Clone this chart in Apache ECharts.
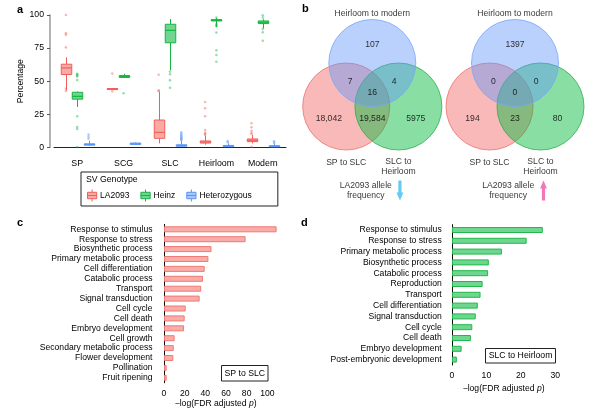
<!DOCTYPE html>
<html><head><meta charset="utf-8">
<script src="https://cdn.jsdelivr.net/npm/echarts@6/dist/echarts.min.js"></script>
<style>html,body{margin:0;padding:0;background:#fff}#c{width:600px;height:418px}</style>
</head><body><div id="c"></div>
<script>
// ---------- DATA ----------
const categoriesA = ['SP', 'SCG', 'SLC', 'Heirloom', 'Modern'];
const seriesNamesA = ['LA2093', 'Heinz', 'Heterozygous'];
// [lower whisker, Q1, median, Q3, upper whisker]
const la2093Box = [[43, 55, 60, 62.8, 68], [43.6, 43.8, 44.1, 44.4, 44.6], [3, 6.8, 11.3, 20.6, 42], [2, 3.2, 4, 4.8, 8.8], [3, 4.3, 5.3, 6.3, 9.3]];
const heinzBox = [[30.5, 36.4, 38.5, 41.6, 42.2], [52.5, 52.8, 53.5, 54.2, 55.6], [58.4, 79, 88.4, 93, 97], [91, 95.5, 96, 96.5, 97.8], [90, 93.5, 94.5, 95.5, 96.8]];
const hetBox = [[1, 1.6, 2.2, 2.6, 5], [2, 2.2, 2.6, 3.2, 3.6], [0.3, 0.8, 1.3, 1.9, 5], [0.1, 0.5, 1, 1.4, 3], [0.1, 0.4, 0.8, 1.2, 3]];
const la2093Out = [[100, 86.3, 85, 75.5, 44.5, 42.5], [55.8, 42.3], [54.8, 43, 42.5], [34.2, 29.5, 23.5, 13, 11, 10, 9.5], [18.2, 15.2, 12.5, 11, 10, 0.3]];
const heinzOut = [[55.5, 55, 54.2, 53.6, 50.8, 23.5, 15.3, 13.8, 0.2], [40.8], [57.2, 55.2, 50.6, 45], [98, 93.2, 92.3, 91.5, 86.7, 73.3, 69.8, 64.7], [99.8, 98, 89.5, 87, 80.5]];
const hetOut = [[9.6, 8, 6.5], [], [11.3, 10.2, 9.3, 8.4, 7.5, 6.8, 6, 5.5], [4.7, 3.8], [4.6, 3.5]];
const yTicksA = [0, 25, 50, 75, 100];

const vennSetNames = ['Heirloom to modern', 'SP to SLC', 'SLC to\nHeirloom'];
// order: onlyBlue, redBlue, blueGreen, all, onlyRed, redGreen, onlyGreen
const vennDown = [107, 7, 4, 16, 18042, 19584, 5975];
const vennUp = [1397, 0, 0, 0, 194, 23, 80];
const vennCaption = 'LA2093 allele\nfrequency';

const goC = ['Response to stimulus', 'Response to stress', 'Biosynthetic process', 'Primary metabolic process', 'Cell differentiation', 'Catabolic process', 'Transport', 'Signal transduction', 'Cell cycle', 'Cell death', 'Embryo development', 'Cell growth', 'Secondary metabolic process', 'Flower development', 'Pollination', 'Fruit ripening'];
const valC = [109, 79, 46, 43, 39.4, 37.7, 36, 34.5, 21, 20, 19.4, 10.3, 9.4, 9, 2.6, 2.6];
const goD = ['Response to stimulus', 'Response to stress', 'Primary metabolic process', 'Biosynthetic process', 'Catabolic process', 'Reproduction', 'Transport', 'Cell differentiation', 'Signal transduction', 'Cell cycle', 'Cell death', 'Embryo development', 'Post-embryonic development'];
const valD = [26.4, 21.7, 14.5, 10.7, 10.5, 8.9, 8.3, 7.5, 6.9, 5.9, 5.5, 2.8, 1.4];

// ---------- STYLE / LAYOUT ----------
const FONT = '"Liberation Sans", Arial, sans-serif';
const TXT = '#000';
const pal = {
  red: {fill: '#F9AAA5', stroke: '#EF5F58', pt: 'rgba(240,90,85,0.55)'},
  green: {fill: '#6FD590', stroke: '#14B441', pt: 'rgba(20,180,65,0.55)'},
  blue: {fill: '#A9C7FF', stroke: '#5A94F8', pt: 'rgba(80,140,245,0.55)'}
};
const boxOffsets = [-11.3, 0, 11.3];
const BOXW = 10.5;

function boxSeries(name, data, col, off) {
  return {
    type: 'custom', name: name, xAxisIndex: 0, yAxisIndex: 0, silent: true, z: 3,
    itemStyle: {color: col.fill, borderColor: col.stroke},
    data: data.map((b, i) => [i].concat(b)),
    encode: {x: 0, y: [1, 2, 3, 4, 5]},
    renderItem: function (params, api) {
      const c = api.value(0);
      const p = [1, 2, 3, 4, 5].map(k => api.coord([c, api.value(k)]));
      const x = Math.round(p[0][0] + off) + 0.5, hw = BOXW / 2;
      const st = {stroke: col.stroke, lineWidth: 1, fill: null};
      return {type: 'group', children: [
        {type: 'line', shape: {x1: x, y1: p[0][1], x2: x, y2: p[1][1]}, style: st},
        {type: 'line', shape: {x1: x, y1: p[3][1], x2: x, y2: p[4][1]}, style: st},
        {type: 'rect', shape: {x: x - hw, y: p[3][1], width: BOXW, height: Math.max(1, p[1][1] - p[3][1])}, style: {fill: col.fill, stroke: col.stroke, lineWidth: 1}},
        {type: 'line', shape: {x1: x - hw, y1: p[2][1], x2: x + hw, y2: p[2][1]}, style: {stroke: col.stroke, lineWidth: 1.2}}
      ]};
    }
  };
}
function outSeries(name, outs, col, off) {
  const d = [];
  outs.forEach((arr, i) => arr.forEach(v => d.push([categoriesA[i], v])));
  return {type: 'scatter', name: name, xAxisIndex: 0, yAxisIndex: 0, silent: true, z: 4,
    symbolSize: 2.6, symbolOffset: [off, 0], itemStyle: {color: col.pt}, data: d};
}

// venn layout (unit = circle radius)
const vennCenters = [[-0.6, 0], [0.6, 0], [0, 1]]; // red, green, blue (draw order)
const vennRegionPos = [[0, 1.43], [-0.51, 0.57], [0.5, 0.57], [0, 0.32], [-1.0, -0.28], [0, -0.28], [1.0, -0.28]];
const vennSetPos = [[0, 2.13], [-0.6, -1.29], [0.6, -1.38]];
const VX = [-2, 2], VY = [-2.4, 2.4], VW = 174, VH = 208.8;
const pxPerUnit = VW / (VX[1] - VX[0]);
const fmt = n => n >= 10000 ? n.toLocaleString('en-US') : String(n);
const arrowDown = 'path://M2.2,0 H5.8 V12 H8 L4,20 L0,12 H2.2 Z';
const arrowUp = 'path://M4,0 L8,8 H5.8 V20 H2.2 V8 H0 Z';

function vennSeries(idx, counts, arrowSym, arrowColor, capX, arrowX) {
  const circleFill = ['rgba(236,62,58,0.45)', 'rgba(0,186,56,0.58)', 'rgba(97,150,250,0.55)'];
  const circleStroke = ['#EE7370', '#2BB24C', '#79A6F6'];
  return [
    {type: 'scatter', xAxisIndex: idx, yAxisIndex: idx, silent: true, z: 2,
      symbolSize: 2 * pxPerUnit,
      data: vennCenters.map((c, i) => ({value: c, itemStyle: {color: circleFill[i], borderColor: circleStroke[i], borderWidth: 1}}))},
    {type: 'scatter', xAxisIndex: idx, yAxisIndex: idx, silent: true, z: 5, symbolSize: 0,
      data: counts.map((n, i) => ({value: vennRegionPos[i], name: fmt(n)})),
      label: {show: true, position: 'inside', formatter: '{b}', color: '#000', fontSize: 8.6, fontFamily: FONT}},
    {type: 'scatter', xAxisIndex: idx, yAxisIndex: idx, silent: true, z: 5, symbolSize: 0,
      data: vennSetNames.map((s, i) => ({value: vennSetPos[i], name: s})).concat([{value: [capX, -1.93], name: vennCaption}]),
      label: {show: true, position: 'inside', formatter: '{b}', color: '#000', fontSize: 8.6, lineHeight: 10, fontFamily: FONT}},
    {type: 'scatter', xAxisIndex: idx, yAxisIndex: idx, silent: true, z: 5,
      symbol: arrowSym, symbolSize: [7, 20], symbolKeepAspect: false,
      itemStyle: {color: arrowColor}, data: [[arrowX, -1.93]]}
  ];
}

const axisTxt = {color: TXT, fontSize: 8.6, fontFamily: FONT};
const blackLine = {lineStyle: {color: '#111', width: 1}};
const boxIcon = 'path://M5,0 V3 M0,3 H10 V10 H0 Z M0,6.5 H10 M5,10 V13';
const nameStyle = {color: TXT, fontSize: 8.6, fontFamily: FONT, rich: {i: {fontStyle: 'italic', fontSize: 8.6, fontFamily: FONT, color: TXT}}};

const option = {
  animation: false,
  backgroundColor: '#fff',
  textStyle: {fontFamily: FONT},
  grid: [
    {left: 54, top: 15, width: 232, height: 132.3},
    {left: 372.3 - VW / 2, top: 106.5 - VH / 2, width: VW, height: VH},
    {left: 517 - VW / 2, top: 106.5 - VH / 2, width: VW, height: VH},
    {left: 164, top: 224.35, width: 103.3, height: 158.4},
    {left: 452, top: 224.6, width: 103.2, height: 140.4}
  ],
  xAxis: [
    {gridIndex: 0, type: 'category', data: categoriesA, offset: 8,
      axisLine: {lineStyle: {color: '#222', width: 1}},
      axisTick: {inside: true, length: 5, lineStyle: {color: '#888'}},
      axisLabel: Object.assign({margin: 4}, axisTxt, {fontSize: 8.8})},
    {gridIndex: 1, type: 'value', min: VX[0], max: VX[1], show: false},
    {gridIndex: 2, type: 'value', min: VX[0], max: VX[1], show: false},
    {gridIndex: 3, type: 'value', min: 0, max: 100, interval: 20, offset: 1,
      axisLine: blackLine, axisTick: {length: 3, lineStyle: {color: '#111'}},
      splitLine: {show: false},
      axisLabel: Object.assign({margin: 5}, axisTxt),
      name: '\u2212log(FDR adjusted {i|p})', nameLocation: 'middle', nameGap: 15.5, nameTextStyle: nameStyle},
    {gridIndex: 4, type: 'value', min: 0, max: 30, interval: 10, offset: 2.5,
      axisLine: blackLine, axisTick: {length: 3, lineStyle: {color: '#111'}},
      splitLine: {show: false},
      axisLabel: Object.assign({margin: 3.5}, axisTxt),
      name: '\u2212log(FDR adjusted {i|p})', nameLocation: 'middle', nameGap: 16.5, nameTextStyle: nameStyle}
  ],
  yAxis: [
    {gridIndex: 0, type: 'value', min: yTicksA[0], max: yTicksA[yTicksA.length - 1], interval: yTicksA[1] - yTicksA[0], offset: 4,
      axisLine: {show: true, lineStyle: {color: '#9a9a9a', width: 1.5}},
      axisTick: {show: true, length: 3, lineStyle: {color: '#555'}},
      splitLine: {show: false},
      axisLabel: Object.assign({margin: 6}, axisTxt, {fontSize: 8.7}),
      name: 'Percentage', nameLocation: 'middle', nameGap: 22.5,
      nameTextStyle: {color: TXT, fontSize: 8.6, fontFamily: FONT}},
    {gridIndex: 1, type: 'value', min: VY[0], max: VY[1], show: false},
    {gridIndex: 2, type: 'value', min: VY[0], max: VY[1], show: false},
    {gridIndex: 3, type: 'category', data: goC, inverse: true, offset: 3.5,
      axisLine: blackLine, axisTick: {alignWithLabel: true, interval: 0, length: 3, lineStyle: {color: '#111'}},
      axisLabel: Object.assign({margin: 8, interval: 0}, axisTxt)},
    {gridIndex: 4, type: 'category', data: goD, inverse: true, offset: 4.3,
      axisLine: blackLine, axisTick: {alignWithLabel: true, interval: 0, length: 3, lineStyle: {color: '#111'}},
      axisLabel: Object.assign({margin: 6, interval: 0}, axisTxt)}
  ],
  legend: {
    left: 81, top: 172, orient: 'horizontal', selectedMode: false,
    padding: [17, 26, 4, 6], itemGap: 11, itemWidth: 10, itemHeight: 12,
    borderColor: '#222', borderWidth: 1,
    textStyle: {color: TXT, fontSize: 8.5, fontFamily: FONT, padding: [0, 0, 0, -2]},
    data: [
      {name: seriesNamesA[0], icon: boxIcon, itemStyle: {color: pal.red.fill, borderColor: pal.red.stroke, borderWidth: 1}},
      {name: seriesNamesA[1], icon: boxIcon, itemStyle: {color: pal.green.fill, borderColor: pal.green.stroke, borderWidth: 1}},
      {name: seriesNamesA[2], icon: boxIcon, itemStyle: {color: pal.blue.fill, borderColor: pal.blue.stroke, borderWidth: 1}}
    ]
  },
  graphic: [
    {type: 'text', left: 17, top: 4, style: {text: 'a', font: 'bold 11px ' + FONT, fill: '#000'}},
    {type: 'text', left: 302, top: 3, style: {text: 'b', font: 'bold 11px ' + FONT, fill: '#000'}},
    {type: 'text', left: 17, top: 217, style: {text: 'c', font: 'bold 11px ' + FONT, fill: '#000'}},
    {type: 'text', left: 301, top: 217, style: {text: 'd', font: 'bold 11px ' + FONT, fill: '#000'}},
    {type: 'text', left: 86, top: 175, style: {text: 'SV Genotype', font: '8.7px ' + FONT, fill: TXT}},
    {type: 'rect', shape: {x: 221.5, y: 365.5, width: 46.5, height: 15.5}, style: {fill: '#fff', stroke: '#222', lineWidth: 1}, z: 10},
    {type: 'text', x: 244.8, y: 373.3, style: {text: 'SP to SLC', font: '8.7px ' + FONT, fill: TXT, textAlign: 'center', textVerticalAlign: 'middle'}, z: 11},
    {type: 'rect', shape: {x: 485.5, y: 348.5, width: 70, height: 14.5}, style: {fill: '#fff', stroke: '#222', lineWidth: 1}, z: 10},
    {type: 'text', x: 520.5, y: 355.8, style: {text: 'SLC to Heirloom', font: '8.7px ' + FONT, fill: TXT, textAlign: 'center', textVerticalAlign: 'middle'}, z: 11}
  ],
  series: [
    boxSeries(seriesNamesA[0], la2093Box, pal.red, boxOffsets[0]),
    boxSeries(seriesNamesA[1], heinzBox, pal.green, boxOffsets[1]),
    boxSeries(seriesNamesA[2], hetBox, pal.blue, boxOffsets[2]),
    outSeries(seriesNamesA[0], la2093Out, pal.red, boxOffsets[0]),
    outSeries(seriesNamesA[1], heinzOut, pal.green, boxOffsets[1]),
    outSeries(seriesNamesA[2], hetOut, pal.blue, boxOffsets[2])
  ]
  .concat(vennSeries(1, vennDown, arrowDown, '#3DBDF0', -0.15, 0.635))
  .concat(vennSeries(2, vennUp, arrowUp, '#EE55AA', -0.16, 0.67))
  .concat([
    {type: 'bar', xAxisIndex: 3, yAxisIndex: 3, data: valC, barWidth: 6, clip: false, silent: true,
      itemStyle: {color: '#F9ACA8', borderColor: '#F07A74', borderWidth: 1}},
    {type: 'bar', xAxisIndex: 4, yAxisIndex: 4, data: valD, barWidth: 6, clip: false, silent: true,
      itemStyle: {color: '#6FD690', borderColor: '#22B84B', borderWidth: 1}}
  ])
};

const chart = echarts.init(document.getElementById('c'), null, {renderer: 'canvas'});
chart.setOption(option);
</script></body></html>
